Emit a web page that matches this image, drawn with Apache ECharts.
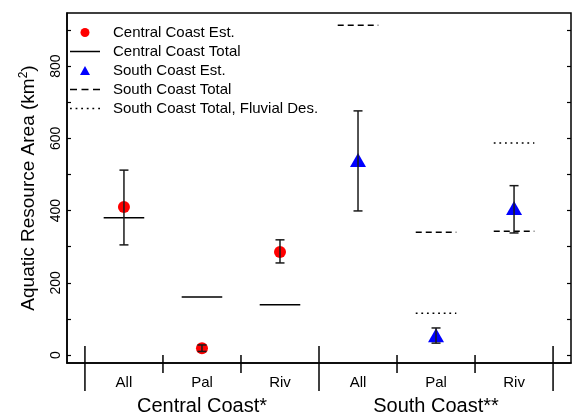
<!DOCTYPE html>
<html>
<head>
<meta charset="utf-8">
<script src="https://cdn.jsdelivr.net/npm/echarts@6/dist/echarts.min.js"></script>
<style>
  html, body { margin: 0; padding: 0; background: #fff; }
  #chart { width: 574px; height: 417px; }
</style>
</head>
<body>
<div id="chart"></div>
<script>
// labels along the bottom
var categories = ['All', 'Pal', 'Riv', 'All', 'Pal', 'Riv'];
var regions = ['Central Coast*', 'South Coast**'];
var yTicks = [0, 200, 400, 600, 800];
var yMinorTicks = [0, 100, 200, 300, 400, 500, 600, 700, 800, 900];

// central coast (All, Pal, Riv)
var centralEst = [410, 19, 285];
var centralLow = [305, 10, 255];
var centralHigh = [512, 28, 319];
var centralTotal = [380, 161, 139];

// south coast (All, Pal, Riv)
var southEst = [540, 55, 407];
var southLow = [399, 33, 338];
var southHigh = [676, 75, 469];
var southTotal = [913, 340, 343];
var southFluvial = [null, 116, 587];

var yMin = -22, yMax = 947;
var xMin = 0.27, xMax = 6.73;

// position 1..3 for central, 4..6 for south
function points (vals, start) {
  var out = [];
  vals.forEach(function (v, i) {
    if (v != null) out.push([start + i, v]);
  });
  return out;
}
function bars (lo, hi, start) {
  return lo.map(function (v, i) { return [start + i, v, hi[i]]; });
}

function segment (dash) {
  return function (params, api) {
    var x = api.value(0), v = api.value(1);
    var a = api.coord([x - 0.26, v]);
    var b = api.coord([x + 0.26, v]);
    return {
      type: 'line',
      shape: { x1: a[0], y1: a[1], x2: b[0], y2: b[1] },
      style: { stroke: '#000', lineWidth: 1.5, lineDash: dash }
    };
  };
}

function errorBar (params, api) {
  var x = api.value(0);
  var lo = api.coord([x, api.value(1)]);
  var hi = api.coord([x, api.value(2)]);
  var st = { stroke: '#1a1a1a', lineWidth: 1.5 };
  return {
    type: 'group',
    children: [
      { type: 'line', shape: { x1: lo[0], y1: lo[1], x2: hi[0], y2: hi[1] }, style: st },
      { type: 'line', shape: { x1: lo[0] - 4.5, y1: lo[1], x2: lo[0] + 4.5, y2: lo[1] }, style: st },
      { type: 'line', shape: { x1: hi[0] - 4.5, y1: hi[1], x2: hi[0] + 4.5, y2: hi[1] }, style: st }
    ]
  };
}

// group separators below the axis
var separators = [];
for (var i = 0; i <= categories.length; i++) {
  separators.push([i + 0.5, i % 3 === 0 ? 1 : 0]);
}

var solidIcon = 'path://M0,0h30v1.5h-30z';
var dashIcon = 'path://M0,0h7v1.5h-7zM11.5,0h7v1.5h-7zM23,0h7v1.5h-7z';
var dotIcon = 'path://M0,0h1.8v1.5h-1.8zM5.6,0h1.8v1.5h-1.8zM11.2,0h1.8v1.5h-1.8zM16.8,0h1.8v1.5h-1.8zM22.4,0h1.8v1.5h-1.8zM28.2,0h1.8v1.5h-1.8z';
var triIcon = 'path://M5,0L10,9L0,9z';

var chart = echarts.init(document.getElementById('chart'));
chart.setOption({
  animation: false,
  textStyle: { fontFamily: 'Liberation Sans, Arial, sans-serif', color: '#000' },
  grid: {
    left: 67, right: 3, top: 13, bottom: 54,
    show: true, borderColor: '#000', borderWidth: 1.5
  },
  legend: {
    orient: 'vertical', left: 70, top: 25, padding: 0,
    itemGap: 4, itemWidth: 30, itemHeight: 9,
    textStyle: { fontSize: 15, color: '#000', lineHeight: 15, padding: [0, 0, 0, 8] },
    data: [
      { name: 'Central Coast Est.', icon: 'circle' },
      { name: 'Central Coast Total', icon: solidIcon },
      { name: 'South Coast Est.', icon: triIcon },
      { name: 'South Coast Total', icon: dashIcon },
      { name: 'South Coast Total, Fluvial Des.', icon: dotIcon }
    ]
  },
  xAxis: [
    {
      type: 'value', min: xMin, max: xMax,
      axisLine: { show: true, onZero: false, lineStyle: { color: '#000', width: 1.5 } },
      axisTick: { show: false },
      splitLine: { show: false },
      axisLabel: {
        customValues: [1, 2, 3, 4, 5, 6],
        formatter: function (v) { return categories[Math.round(v) - 1]; },
        fontSize: 15, color: '#000', margin: 12
      }
    },
    {
      type: 'value', min: xMin, max: xMax, position: 'bottom',
      axisLine: { show: false, onZero: false }, axisTick: { show: false }, splitLine: { show: false },
      axisLabel: {
        customValues: [2, 5],
        formatter: function (v) { return regions[v === 2 ? 0 : 1]; },
        fontSize: 20, color: '#000', margin: 33
      }
    }
  ],
  yAxis: [
    {
      type: 'value', min: yMin, max: yMax,
      name: '{n|Aquatic Resource Area (km}{s|2}{n|)}',
      nameLocation: 'middle', nameGap: 27,
      nameTextStyle: {
        rich: {
          n: { fontSize: 19, color: '#000', lineHeight: 22, fontFamily: 'Liberation Sans, Arial, sans-serif' },
          s: { fontSize: 12, color: '#000', verticalAlign: 'top', lineHeight: 22, fontFamily: 'Liberation Sans, Arial, sans-serif' }
        }
      },
      axisLine: { show: true, onZero: false, lineStyle: { color: '#000', width: 1.5 } },
      axisTick: { show: true, inside: true, length: 4, customValues: yMinorTicks, lineStyle: { color: '#000', width: 1.2 } },
      axisLabel: { customValues: yTicks, rotate: 90, fontSize: 14, color: '#000', margin: 4 },
      splitLine: { show: false }
    },
    {
      type: 'value', min: yMin, max: yMax, position: 'right',
      axisLine: { show: false },
      axisTick: { show: true, inside: true, length: 4, customValues: yMinorTicks, lineStyle: { color: '#000', width: 1.2 } },
      axisLabel: { show: false },
      splitLine: { show: false }
    }
  ],
  series: [
    {
      name: 'Central Coast Est.', type: 'scatter', symbol: 'circle', symbolSize: 12,
      itemStyle: { color: '#ff0000', opacity: 1 }, data: points(centralEst, 1), z: 2
    },
    {
      name: 'South Coast Est.', type: 'scatter', symbol: 'triangle', symbolSize: [16, 14],
      itemStyle: { color: '#0000ff', opacity: 1 }, data: points(southEst, 4), z: 2
    },
    {
      name: 'Central Coast Total', type: 'custom', renderItem: segment(null),
      itemStyle: { color: '#000' }, data: points(centralTotal, 1), z: 3
    },
    {
      name: 'South Coast Total', type: 'custom', renderItem: segment([6, 4]),
      itemStyle: { color: '#000' }, data: points(southTotal, 4), z: 3
    },
    {
      name: 'South Coast Total, Fluvial Des.', type: 'custom', renderItem: segment([1.8, 3.8]),
      itemStyle: { color: '#000' }, data: points(southFluvial, 4), z: 3
    },
    {
      name: 'central error', type: 'custom', renderItem: errorBar,
      encode: { x: 0, y: [1, 2] }, data: bars(centralLow, centralHigh, 1), z: 4
    },
    {
      name: 'south error', type: 'custom', renderItem: errorBar,
      encode: { x: 0, y: [1, 2] }, data: bars(southLow, southHigh, 4), z: 4
    },
    {
      name: 'separators', type: 'custom', clip: false,
      renderItem: function (params, api) {
        var p = api.coord([api.value(0), yMin]);
        var up = api.value(1) ? 17 : 8;
        var down = api.value(1) ? 28 : 10;
        return {
          type: 'line',
          shape: { x1: p[0], y1: p[1] - up, x2: p[0], y2: p[1] + down },
          style: { stroke: '#000', lineWidth: 1.5 }
        };
      },
      data: separators, z: 5
    }
  ]
});
</script>
</body>
</html>
